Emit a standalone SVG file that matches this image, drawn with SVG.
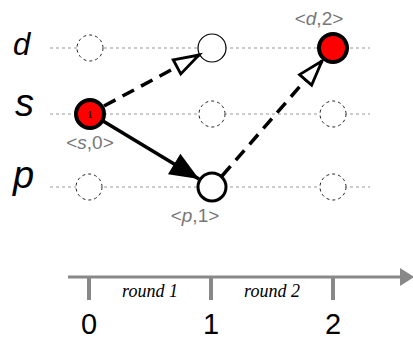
<svg xmlns="http://www.w3.org/2000/svg" width="413" height="340" viewBox="0 0 413 340">
<style>
.grid{stroke:#999;stroke-width:1;stroke-dasharray:3 3;fill:none}
.ghost{fill:#fff;stroke:#222;stroke-width:1;stroke-dasharray:3 3}
.plain{fill:#fff;stroke:#000}
.red{fill:#f00;stroke:#000;stroke-width:4}
.row{font-family:"Liberation Sans",Arial,sans-serif;font-style:italic;fill:#000}
.lbl{font-family:"Liberation Sans",Arial,sans-serif;font-size:19px;fill:#777}
.num{font-family:"Liberation Sans",Arial,sans-serif;font-size:29px;fill:#000;text-anchor:middle}
.rnd{font-family:"Liberation Serif","Times New Roman",serif;font-style:italic;font-size:18px;fill:#000;text-anchor:middle}
.tick{stroke:#888;stroke-width:4}
.dash{stroke:#000;stroke-width:3.5;stroke-dasharray:13 8;fill:none}
</style>
<defs>
<marker id="open" markerUnits="userSpaceOnUse" markerWidth="32" markerHeight="24" refX="27" refY="11" orient="auto">
<path d="M2,3 L27,11 L2,19 Z" fill="#fff" stroke="#000" stroke-width="2.8" stroke-linejoin="miter"/>
</marker>
<marker id="solid" markerUnits="userSpaceOnUse" markerWidth="34" markerHeight="28" refX="30" refY="13" orient="auto">
<path d="M1,1 L30,13 L1,25 Z" fill="#000"/>
</marker>
</defs>
<g id="grid">
<line class="grid" x1="50" y1="48" x2="370" y2="48"/>
<line class="grid" x1="50" y1="114" x2="370" y2="114"/>
<line class="grid" x1="50" y1="187" x2="370" y2="187"/>
</g>
<g id="labels">
<text class="row" x="13" y="55" font-size="31">d</text>
<text class="row" x="15" y="116" font-size="38">s</text>
<text class="row" x="13" y="188" font-size="38">p</text>
</g>
<g id="d0"><circle class="ghost" cx="90" cy="48" r="13"/></g>
<g id="d1"><circle class="plain" cx="212" cy="48" r="14" stroke-width="1.2"/></g>
<g id="d2"><circle class="red" cx="333" cy="48" r="14"/><text class="lbl" x="319" y="25" text-anchor="middle">&lt;<tspan font-style="italic">d</tspan>,2&gt;</text></g>
<g id="s0"><circle class="red" cx="90" cy="114" r="14"/><text x="90" y="118" font-family="Liberation Serif,serif" font-weight="bold" font-size="10" fill="#300" text-anchor="middle">1</text><text class="lbl" x="90" y="149" text-anchor="middle">&lt;<tspan font-style="italic">s</tspan>,0&gt;</text></g>
<g id="s1"><circle class="ghost" cx="212" cy="114" r="13"/></g>
<g id="s2"><circle class="ghost" cx="333" cy="114" r="13"/></g>
<g id="p0"><circle class="ghost" cx="89" cy="187" r="13"/></g>
<g id="p1"><circle class="plain" cx="212" cy="187" r="14" stroke-width="3"/><text class="lbl" x="195" y="222" text-anchor="middle">&lt;<tspan font-style="italic">p</tspan>,1&gt;</text></g>
<g id="p2"><circle class="ghost" cx="333" cy="187" r="13"/></g>
<g id="connectors">
<line class="dash" x1="104" y1="106" x2="199" y2="55" marker-end="url(#open)"/>
<line x1="103" y1="121" x2="199" y2="179" stroke="#000" stroke-width="3.5" marker-end="url(#solid)"/>
<line class="dash" x1="222" y1="176" x2="322" y2="61" marker-end="url(#open)"/>
</g>
<g id="timeline">
<line x1="68" y1="277" x2="402" y2="277" stroke="#888" stroke-width="3"/>
<polygon points="400,268 414,277 400,286" fill="#888"/>
<line class="tick" x1="89" y1="277" x2="89" y2="300"/>
<line class="tick" x1="211" y1="277" x2="211" y2="300"/>
<line class="tick" x1="333" y1="277" x2="333" y2="300"/>
<text class="rnd" x="150" y="297">round 1</text>
<text class="rnd" x="272" y="297">round 2</text>
<text class="num" x="89" y="334">0</text>
<text class="num" x="211" y="334">1</text>
<text class="num" x="333" y="334">2</text>
</g>
</svg>
